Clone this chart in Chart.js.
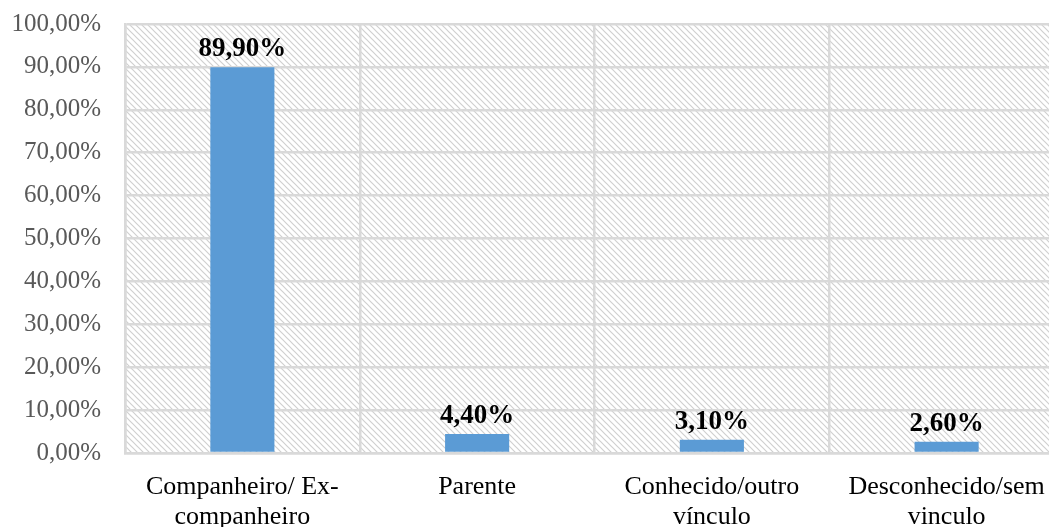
<!DOCTYPE html>
<html>
<head>
<meta charset="utf-8">
<script src="https://cdn.jsdelivr.net/npm/chart.js@4.4.0/dist/chart.umd.min.js"></script>
<style>
  html, body { margin: 0; padding: 0; background: #fff; overflow: hidden; }
  #wrap { width: 1065px; height: 542px; margin-top: -15px; position: relative; }
</style>
</head>
<body>
<div id="wrap"><canvas id="chart"></canvas></div>
<script>
// values
const categories = [
  ["Companheiro/ Ex-", "companheiro"],
  ["Parente"],
  ["Conhecido/outro", "vínculo"],
  ["Desconhecido/sem", "vinculo"]
]
const percentages = [89.9, 4.4, 3.1, 2.6]
const yTicks = [0, 10, 20, 30, 40, 50, 60, 70, 80, 90, 100]

const fmt = v => v.toFixed(2).replace(".", ",") + "%"
const serif = "'Liberation Serif', 'Times New Roman', serif"

// hatched plot background
function makeHatch(ctx) {
  const c = document.createElement("canvas")
  c.width = 6; c.height = 6
  const g = c.getContext("2d")
  g.strokeStyle = "#d0d0d0"
  g.lineWidth = 1.2
  g.beginPath()
  g.moveTo(-1, -1); g.lineTo(7, 7)
  g.moveTo(-1, 5); g.lineTo(1, 7)
  g.moveTo(5, -1); g.lineTo(7, 1)
  g.stroke()
  return ctx.createPattern(c, "repeat")
}

const hatchBg = {
  id: "hatchBg",
  beforeDraw(chart) {
    const { ctx, chartArea: a } = chart
    ctx.save()
    ctx.fillStyle = makeHatch(ctx)
    ctx.fillRect(a.left, a.top, a.right - a.left, a.bottom - a.top)
    ctx.restore()
  }
}

const valueLabels = {
  id: "valueLabels",
  afterDatasetsDraw(chart) {
    const { ctx } = chart
    const meta = chart.getDatasetMeta(0)
    ctx.save()
    ctx.font = "bold 27px " + serif
    ctx.fillStyle = "#000"
    ctx.textAlign = "center"
    ctx.textBaseline = "alphabetic"
    meta.data.forEach((bar, i) => {
      ctx.fillText(fmt(percentages[i]), bar.x, bar.y - 11)
    })
    ctx.restore()
  }
}

new Chart(document.getElementById("chart"), {
  type: "bar",
  data: {
    labels: categories,
    datasets: [{
      data: percentages,
      backgroundColor: "#5b9bd5",
      categoryPercentage: 1,
      barPercentage: 0.273
    }]
  },
  options: {
    responsive: true,
    maintainAspectRatio: false,
    animation: false,
    layout: { padding: { top: 10, right: 1, left: 0, bottom: 0 } },
    plugins: { legend: { display: false }, tooltip: { enabled: false } },
    scales: {
      x: {
        grid: { color: "#d9d9d9", lineWidth: 2.5, drawTicks: false },
        border: { color: "#d9d9d9", width: 2.5 },
        ticks: {
          color: "#000",
          padding: 19,
          maxRotation: 0,
          font: { family: serif, size: 26, lineHeight: 1.16 }
        },
        afterFit(scale) { scale.height = 74 }
      },
      y: {
        min: 0,
        max: 100,
        afterBuildTicks(scale) { scale.ticks = yTicks.map(v => ({ value: v })) },
        grid: { color: "#d9d9d9", lineWidth: 2.5, drawTicks: false },
        border: { color: "#d9d9d9", width: 2.5 },
        ticks: {
          color: "#595959",
          padding: 24,
          callback: v => fmt(v),
          font: { family: serif, size: 25 }
        },
        afterFit(scale) { scale.width = 125 }
      }
    }
  },
  plugins: [hatchBg, valueLabels]
})
</script>
</body>
</html>
